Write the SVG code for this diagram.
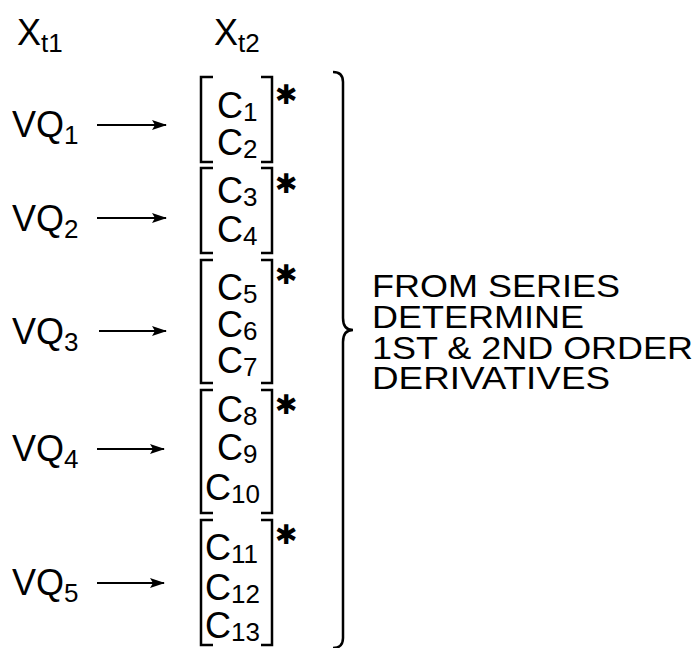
<svg xmlns="http://www.w3.org/2000/svg" width="697" height="648" viewBox="0 0 697 648">
<style>
text{font-family:"Liberation Sans",Arial,sans-serif;fill:#000}
.m{font-size:36px}
.s{font-size:26px}
.note{font-size:31px}
.ast{font-family:"DejaVu Sans",sans-serif;font-size:27px;font-weight:bold}
.br{fill:none;stroke:#000;stroke-width:2.5}
.ar{stroke:#000;stroke-width:2;fill:none}
</style>
<defs>
<marker id="ah" markerWidth="15" markerHeight="10" refX="14" refY="5" orient="auto" markerUnits="userSpaceOnUse">
<path d="M0,0 L15,5 L0,10 L3,5 Z" fill="#000"/>
</marker>
</defs>
<rect width="697" height="648" fill="#fff"/>
<g id="header">
<text class="m" x="17" y="45">X<tspan class="s" dy="7">t1</tspan></text>
<text class="m" x="214" y="45">X<tspan class="s" dy="7">t2</tspan></text>
</g>
<g id="vq1"><text class="m" x="12" y="137">VQ<tspan class="s" dy="7">1</tspan></text></g>
<g id="vq2"><text class="m" x="12" y="231">VQ<tspan class="s" dy="7">2</tspan></text></g>
<g id="vq3"><text class="m" x="12" y="344">VQ<tspan class="s" dy="7">3</tspan></text></g>
<g id="vq4"><text class="m" x="12" y="461">VQ<tspan class="s" dy="7">4</tspan></text></g>
<g id="vq5"><text class="m" x="12" y="595">VQ<tspan class="s" dy="7">5</tspan></text></g>
<g id="connectors">
<line class="ar" x1="97" y1="125" x2="166" y2="125" marker-end="url(#ah)"/>
<line class="ar" x1="97" y1="218" x2="166" y2="218" marker-end="url(#ah)"/>
<line class="ar" x1="99" y1="331" x2="166" y2="331" marker-end="url(#ah)"/>
<line class="ar" x1="97" y1="449" x2="164" y2="449" marker-end="url(#ah)"/>
<line class="ar" x1="97" y1="583" x2="164" y2="583" marker-end="url(#ah)"/>
</g>
<g id="group1">
<path class="br" d="M213,77 H201 V162 H213 M261,77 H272 V162 H261"/>
<text class="m" x="217" y="118">C<tspan class="s" dy="3">1</tspan></text>
<text class="m" x="217" y="155">C<tspan class="s" dy="3">2</tspan></text>
<text class="ast" x="275" y="104">✱</text>
</g>
<g id="group2">
<path class="br" d="M213,168 H201 V253 H213 M261,168 H272 V253 H261"/>
<text class="m" x="217" y="203">C<tspan class="s" dy="3">3</tspan></text>
<text class="m" x="217" y="242">C<tspan class="s" dy="3">4</tspan></text>
<text class="ast" x="275" y="193">✱</text>
</g>
<g id="group3">
<path class="br" d="M213,260 H201 V383 H213 M261,260 H272 V383 H261"/>
<text class="m" x="217" y="300">C<tspan class="s" dy="3">5</tspan></text>
<text class="m" x="217" y="337">C<tspan class="s" dy="3">6</tspan></text>
<text class="m" x="217" y="373">C<tspan class="s" dy="3">7</tspan></text>
<text class="ast" x="275" y="284">✱</text>
</g>
<g id="group4">
<path class="br" d="M213,390 H201 V513 H213 M261,390 H272 V513 H261"/>
<text class="m" x="217" y="422">C<tspan class="s" dy="3">8</tspan></text>
<text class="m" x="217" y="460">C<tspan class="s" dy="3">9</tspan></text>
<text class="m" x="205" y="500">C<tspan class="s" dy="3">10</tspan></text>
<text class="ast" x="275" y="414">✱</text>
</g>
<g id="group5">
<path class="br" d="M213,520 H201 V645 H213 M261,520 H272 V645 H261"/>
<text class="m" x="205" y="560">C<tspan class="s" dy="3">11</tspan></text>
<text class="m" x="205" y="600">C<tspan class="s" dy="3">12</tspan></text>
<text class="m" x="205" y="638">C<tspan class="s" dy="3">13</tspan></text>
<text class="ast" x="275" y="544">✱</text>
</g>
<g id="brace">
<path class="br" d="M333,72 Q343,72 343,82 V318 Q343,330 353,330 Q343,330 343,342 V638 Q343,648 333,648"/>
</g>
<g id="note">
<text class="note" x="372" y="297" textLength="248" lengthAdjust="spacingAndGlyphs">FROM SERIES</text>
<text class="note" x="372" y="328" textLength="212" lengthAdjust="spacingAndGlyphs">DETERMINE</text>
<text class="note" x="372" y="358.5" textLength="321" lengthAdjust="spacingAndGlyphs">1ST &amp; 2ND ORDER</text>
<text class="note" x="372" y="389" textLength="238" lengthAdjust="spacingAndGlyphs">DERIVATIVES</text>
</g>
</svg>
